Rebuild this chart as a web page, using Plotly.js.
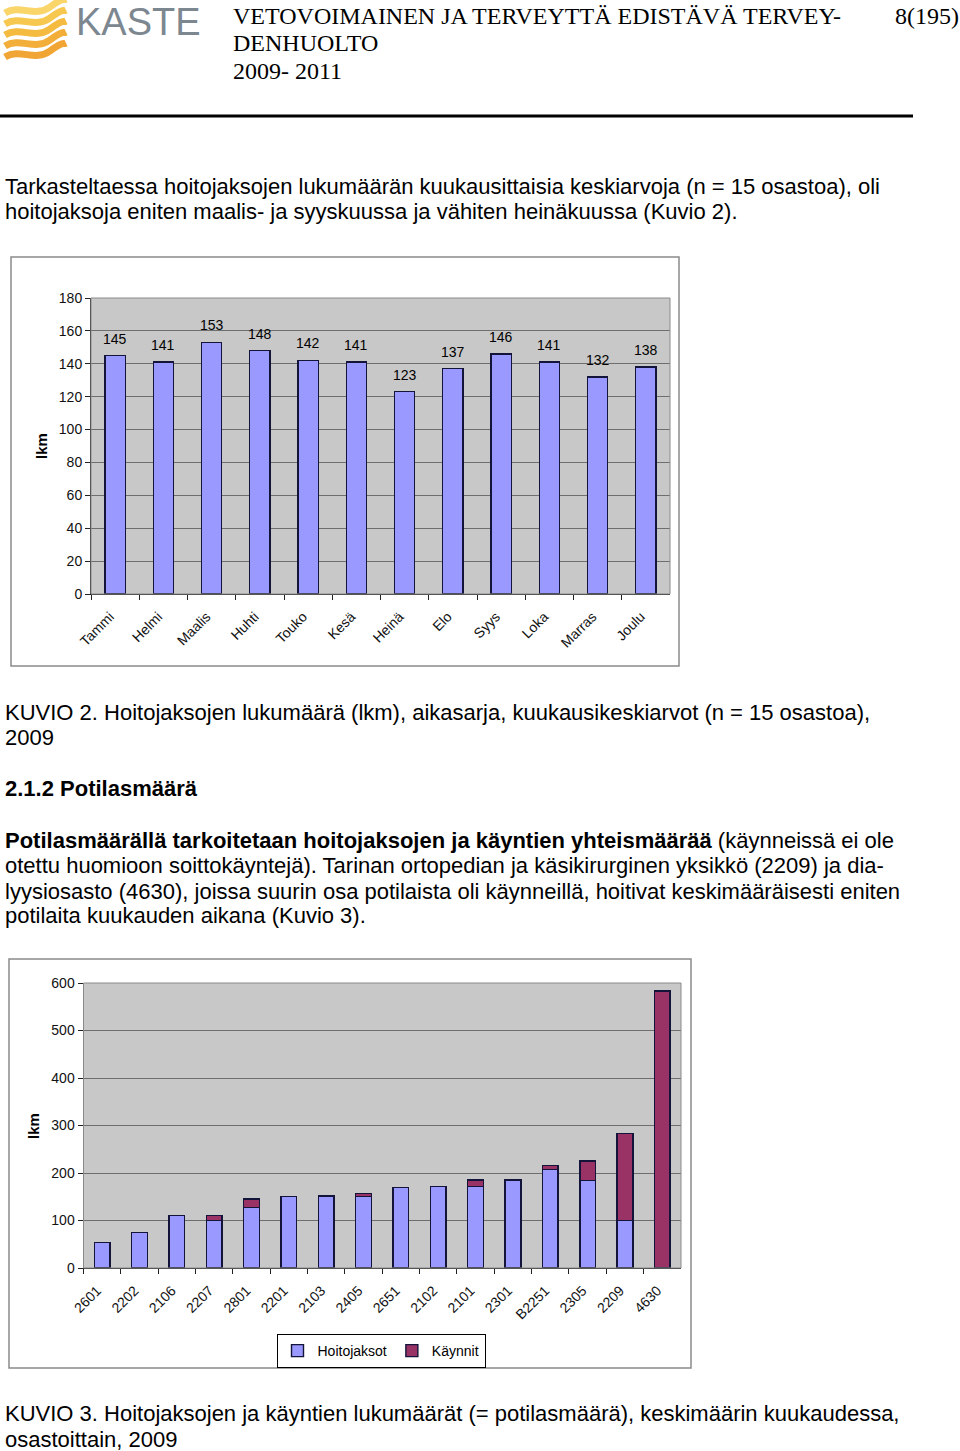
<!DOCTYPE html>
<html>
<head>
<meta charset="utf-8">
<script src="https://cdn.plot.ly/plotly-3.0.1.min.js"></script>
<style>
html,body{margin:0;padding:0;background:#fff;}
#chart{width:960px;height:1451px;}
</style>
</head>
<body>
<div id="chart"></div>
<script>
// ---- Data: Kuvio 2 ----
const months = ["Tammi","Helmi","Maalis","Huhti","Touko","Kesä","Heinä","Elo","Syys","Loka","Marras","Joulu"];
const hoitojaksotKk = [145,141,153,148,142,141,123,137,146,141,132,138];
const y1Ticks = [0,20,40,60,80,100,120,140,160,180];

// ---- Data: Kuvio 3 ----
const osastot = ["2601","2202","2106","2207","2801","2201","2103","2405","2651","2102","2101","2301","B2251","2305","2209","4630"];
const hoitojaksot = [54,75,110,100,128,150,152,151,169,171,171,185,208,184,100,0];
const kaynnit =     [0,0,0,10,17,0,0,6,0,0,14,0,8,41,183,583];
const y2Ticks = [0,100,200,300,400,500,600];

// ---- helpers: page pixels -> paper ----
const W = 960, H = 1451;
const X = px => px / W;
const Y = py => 1 - py / H;

const sans = "Liberation Sans, Arial, Helvetica, sans-serif";
const serif = "Liberation Serif, Times New Roman, serif";

const traces = [
  {
    type: "bar", x: months, y: hoitojaksotKk, xaxis: "x", yaxis: "y",
    marker: {color: "#9999ff", line: {color: "#14143a", width: 1.4}},
    showlegend: false, hoverinfo: "skip"
  },
  {
    type: "bar", name: "Hoitojaksot", x: osastot, y: hoitojaksot, xaxis: "x2", yaxis: "y2",
    marker: {color: "#9999ff", line: {color: "#14143a", width: 1.4}}, hoverinfo: "skip"
  },
  {
    type: "bar", name: "Käynnit", x: osastot, y: kaynnit, xaxis: "x2", yaxis: "y2",
    marker: {color: "#993366", line: {color: "#14143a", width: 1.4}}, hoverinfo: "skip"
  }
];

const tickFont = {family: sans, size: 14, color: "#111"};
const commonX = {
  type: "category", showgrid: false, showline: true, linecolor: "#222", linewidth: 1,
  ticks: "outside", ticklen: 5, tickcolor: "#222", tickson: "boundaries",
  tickangle: -45, tickfont: tickFont, mirror: false, fixedrange: true,
  ticklabelstandoff: 8, ticklabelshift: -5
};
const commonY = {
  showgrid: true, gridcolor: "#6e6e6e", gridwidth: 1, showline: true, linecolor: "#222",
  ticks: "outside", ticklen: 5, tickcolor: "#222", tickfont: tickFont, zeroline: false,
  fixedrange: true
};

function ann(text, x, y, opts) {
  return Object.assign({
    text: text, x: X(x), y: Y(y), xref: "paper", yref: "paper",
    xanchor: "left", yanchor: "middle", showarrow: false,
    font: {family: sans, size: 22, color: "#000"}
  }, opts || {});
}

const annotations = [
  ann("KASTE", 74, 22, {font: {family: "Liberation Sans Narrow, Liberation Sans, Arial, sans-serif", size: 38, color: "#7d8790"}}),
  ann("VETOVOIMAINEN JA TERVEYTTÄ EDISTÄVÄ TERVEY-", 231, 16, {font: {family: serif, size: 24, color: "#000"}}),
  ann("DENHUOLTO", 231, 43, {font: {family: serif, size: 24, color: "#000"}}),
  ann("2009- 2011", 231, 71, {font: {family: serif, size: 24, color: "#000"}}),
  ann("8(195)", 961, 16, {xanchor: "right", font: {family: serif, size: 24, color: "#000"}}),
  ann("Tarkasteltaessa hoitojaksojen lukumäärän kuukausittaisia keskiarvoja (n = 15 osastoa), oli", 3, 186),
  ann("hoitojaksoja eniten maalis- ja syyskuussa ja vähiten heinäkuussa (Kuvio 2).", 3, 211),
  ann("<b>lkm</b>", 41, 446, {xanchor: "center", textangle: -90, font: {family: sans, size: 15, color: "#000"}}),
  ann("KUVIO 2. Hoitojaksojen lukumäärä (lkm), aikasarja, kuukausikeskiarvot (n = 15 osastoa),", 3, 712),
  ann("2009", 3, 737),
  ann("<b>2.1.2 Potilasmäärä</b>", 3, 789),
  ann("<b>Potilasmäärällä tarkoitetaan hoitojaksojen ja käyntien yhteismäärää</b> (käynneissä ei ole", 3, 840),
  ann("otettu huomioon soittokäyntejä). Tarinan ortopedian ja käsikirurginen yksikkö (2209) ja dia-", 3, 865),
  ann("lyysiosasto (4630), joissa suurin osa potilaista oli käynneillä, hoitivat keskimääräisesti eniten", 3, 891),
  ann("potilaita kuukauden aikana (Kuvio 3).", 3, 916),
  ann("<b>lkm</b>", 33, 1126, {xanchor: "center", textangle: -90, font: {family: sans, size: 15, color: "#000"}}),
  ann("KUVIO 3. Hoitojaksojen ja käyntien lukumäärät (= potilasmäärä), keskimäärin kuukaudessa,", 3, 1413),
  ann("osastoittain, 2009", 3, 1439)
];

// data labels for Kuvio 2, positioned by the axes
months.forEach((m, i) => {
  annotations.push({
    x: m, y: hoitojaksotKk[i], xref: "x", yref: "y", text: String(hoitojaksotKk[i]),
    showarrow: false, xanchor: "center", yanchor: "bottom", yshift: 7,
    font: {family: sans, size: 14, color: "#000"}
  });
});

// logo waves
function wave(y0, amp) {
  const pts = [[5, y0 + 8], [20, y0 + 2], [35, y0 + 10], [50, y0 + 2], [66, y0 - 6]];
  return "M " + X(pts[0][0]) + "," + Y(pts[0][1]) +
    " C " + X(pts[1][0]) + "," + Y(pts[1][1] - amp) + " " + X(pts[2][0]) + "," + Y(pts[2][1] + amp) + " " + X(pts[3][0]) + "," + Y(pts[3][1]) +
    " S " + X(62) + "," + Y(pts[4][1] + 2) + " " + X(pts[4][0]) + "," + Y(pts[4][1]);
}
const waveColors = ["#f9d56a", "#f7c850", "#f5bb40", "#f2ae38", "#f0a535"];
const shapes = [];
[5, 16, 27, 38, 49].forEach((yy, i) => {
  shapes.push({type: "path", xref: "paper", yref: "paper", path: wave(yy, 3), line: {color: waveColors[i], width: 7}});
});
shapes.push(
  {type: "line", xref: "paper", yref: "paper", x0: X(0), x1: X(913), y0: Y(116), y1: Y(116), line: {color: "#000", width: 3}},
  {type: "rect", xref: "paper", yref: "paper", x0: X(11), x1: X(679), y0: Y(257), y1: Y(666), line: {color: "#8a8a8a", width: 1.5}},
  {type: "rect", xref: "paper", yref: "paper", x0: X(9), x1: X(691), y0: Y(959), y1: Y(1368), line: {color: "#8a8a8a", width: 1.5}},
  {type: "rect", xref: "paper", yref: "paper", x0: X(91), x1: X(670), y0: Y(594), y1: Y(298), line: {color: "#8a8a8a", width: 1}, layer: "above"},
  {type: "rect", xref: "paper", yref: "paper", x0: X(83.5), x1: X(681), y0: Y(1268), y1: Y(983), line: {color: "#8a8a8a", width: 1}, layer: "above"}
);

const layout = {
  width: W, height: H, margin: {l: 0, r: 0, t: 0, b: 0},
  paper_bgcolor: "#fff", plot_bgcolor: "#c8c8c8",
  barmode: "stack", bargap: 0.58,
  showlegend: true,
  legend: {
    orientation: "h", x: X(381), y: Y(1351), xanchor: "center", yanchor: "middle",
    bordercolor: "#000", borderwidth: 1, bgcolor: "#fff",
    font: {family: sans, size: 14, color: "#000"}, itemwidth: 30, traceorder: "normal",
    tracegroupgap: 0
  },
  xaxis: Object.assign({}, commonX, {domain: [X(91), X(670)], anchor: "y"}),
  yaxis: Object.assign({}, commonY, {domain: [Y(594), Y(298)], range: [0, 180], tickvals: y1Ticks, anchor: "x"}),
  xaxis2: Object.assign({}, commonX, {domain: [X(83.5), X(681)], anchor: "y2"}),
  yaxis2: Object.assign({}, commonY, {domain: [Y(1268), Y(983)], range: [0, 600], tickvals: y2Ticks, anchor: "x2"}),
  annotations: annotations,
  shapes: shapes
};

Plotly.newPlot("chart", traces, layout, {staticPlot: true, displayModeBar: false});
</script>
</body>
</html>
